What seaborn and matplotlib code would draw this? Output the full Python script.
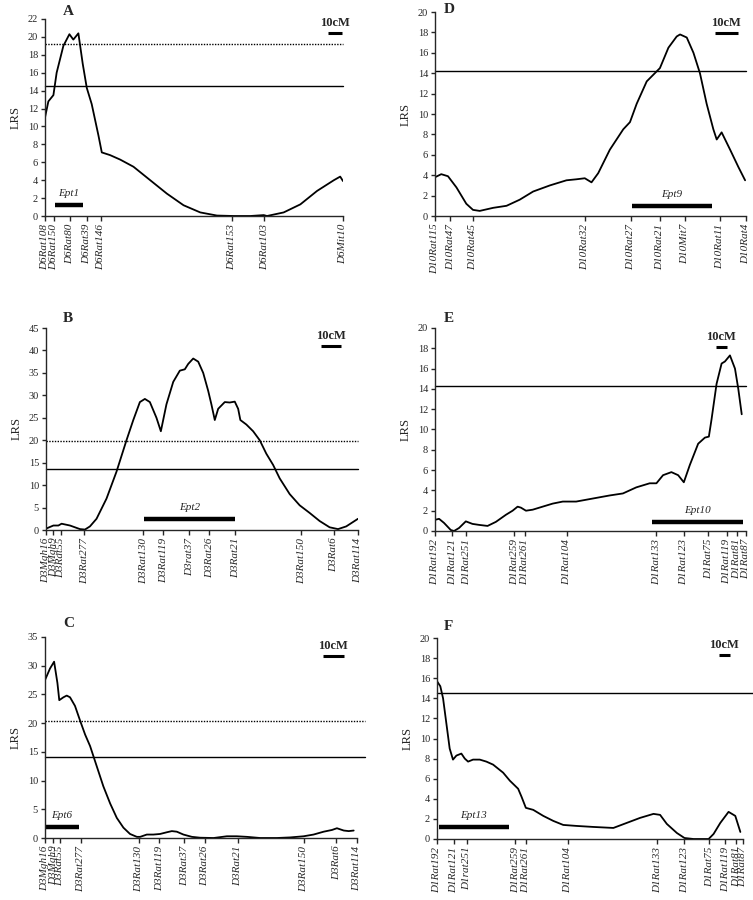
import matplotlib
matplotlib.use("Agg")
import matplotlib.pyplot as plt
import seaborn as sns
import numpy as np

# ---- data (positions in cM, LRS values) ----
# Panel A - chromosome 6
a_markers = ['D6Rat108', 'D6Rat150', 'D6Rat80', 'D6Rat39', 'D6Rat146',
             'D6Rat153', 'D6Rat103', 'D6Mit10']
a_marker_cm = [0, 6.5, 17.5, 30, 40, 133, 156.5, 212.5]
a_cm = [0, 2.4, 6, 8.3, 13.1, 17.4, 20.2, 23.8, 26.9, 29.8, 33.3, 38.1, 40.5,
        46.4, 53.6, 63.1, 75, 86.9, 98.8, 110.7, 122.6, 134.5, 146.4, 156,
        158.3, 170.2, 182.1, 194, 206, 210.5, 212.5]
a_lrs = [11, 12.8, 13.5, 16, 19, 20.3, 19.7, 20.4, 17, 14.3, 12.5, 9, 7.1,
         6.8, 6.3, 5.5, 4, 2.5, 1.2, 0.4, 0.05, 0, 0, 0.1,
         0, 0.4, 1.3, 2.8, 4, 4.4, 3.9]
a_sig, a_sugg = 19.2, 14.5
a_qtl, a_qtl_cm = 'Ept1', (7.1, 26.9)

# Panel B - chromosome 3 (Ept2)
b_markers = ['D3Mgh16', 'D3Mgh9', 'D3Rat55', 'D3Rat277', 'D3Rat130',
             'D3Rat119', 'D3rat37', 'D3Rat26', 'D3Rat21', 'D3Rat150',
             'D3Rat6', 'D3Rat114']
b_marker_cm = [0, 3.7, 7.5, 19.2, 48.7, 58.7, 71.7, 81.7, 94.8, 127.8, 144.2, 156.2]
b_cm = [0, 3.7, 6.2, 7.8, 12, 17, 19.5, 22, 25.3, 30.3, 35.3, 40.3, 43.7, 47,
        49.5, 52, 55.3, 57.5, 60.3, 63.7, 67, 69.5, 71.2, 73.7, 76.2, 78.7,
        81.2, 82.8, 84.5, 86.2, 89.5, 92, 94.5, 96.2, 97.3, 100.3, 103.7, 107,
        110.3, 113.7, 117, 122, 127, 132, 137, 142, 146.2, 150.3, 156.2]
b_lrs = [0.3, 1.0, 1.0, 1.4, 1.0, 0.2, 0.1, 0.8, 2.5, 7, 13, 20, 24.5, 28.5,
         29.2, 28.5, 25, 22, 28, 33, 35.5, 35.8, 37, 38.2, 37.5, 35,
         31, 28, 24.5, 27, 28.5, 28.4, 28.6, 27, 24.5, 23.5, 22, 20,
         17, 14.5, 11.5, 8, 5.5, 3.8, 2, 0.6, 0.2, 0.8, 2.5]
b_sig, b_sugg = 19.9, 13.6
b_qtl, b_qtl_cm = 'Ept2', (49, 94.8)

# Panel C - chromosome 3 (Ept6)
c_markers = b_markers[:6] + ['D3Rat37'] + b_markers[7:]
c_marker_cm = [0, 4, 7.3, 17.4, 45.2, 55.2, 67.3, 77.1, 93.1, 125, 140.8, 150.8]
c_cm = [0, 2.4, 4.4, 6, 6.9, 8.9, 10.5, 12.1, 14.5, 16.9, 19.4, 21.8, 25, 28.2,
        31.5, 34.7, 37.9, 41.1, 44.4, 46, 49.2, 52.4, 55.6, 58.9, 61.3, 63.7,
        66.9, 71, 75, 81.5, 87.9, 92.7, 97.6, 104, 112.1, 118.5, 125, 129.8,
        134.7, 138.7, 141.1, 144.4, 146.8, 149.2]
c_lrs = [27.5, 29.5, 30.7, 27, 24, 24.5, 24.8, 24.5, 23, 20.5, 18, 16, 12.5, 9,
         6, 3.5, 1.8, 0.7, 0.2, 0.2, 0.6, 0.6, 0.7, 1, 1.2, 1.1,
         0.6, 0.2, 0.05, 0, 0.3, 0.3, 0.2, 0, 0, 0.1, 0.3, 0.6,
         1.1, 1.4, 1.7, 1.3, 1.2, 1.3]
c_sig, c_sugg = 20.4, 14.1
c_qtl, c_qtl_cm = 'Ept6', (0, 16.5)

# Panel D - chromosome 10
d_markers = ['D10Rat115', 'D10Rat47', 'D10Rat45', 'D10Rat32', 'D10Rat27',
             'D10Rat21', 'D10Mit7', 'D10Rat11', 'D10Rat4']
d_marker_cm = [0, 6.9, 17, 67, 87.5, 100.6, 111.8, 127.5, 139.1]
d_cm = [0, 2.8, 5.8, 9.6, 14, 17, 20, 26, 32, 37.9, 43.9, 51.4, 58.8, 63.3, 67,
        70, 73, 78.2, 84.2, 87.2, 90.2, 94.7, 100.6, 104.4, 108.1, 109.6,
        112.6, 115.6, 118.5, 121.5, 124.5, 126, 128.2, 132, 135.7, 138.7]
d_lrs = [3.8, 4.1, 3.9, 2.8, 1.2, 0.6, 0.5, 0.8, 1.0, 1.6, 2.4, 3.0, 3.5, 3.6,
         3.7, 3.3, 4.2, 6.5, 8.5, 9.2, 11, 13.2, 14.5, 16.5, 17.6, 17.8,
         17.5, 16, 14, 11, 8.5, 7.5, 8.2, 6.5, 4.8, 3.5]
d_sig, d_sugg = None, 14.2
d_qtl, d_qtl_cm = 'Ept9', (87.9, 124.1)

# Panel E - chromosome 1 (Ept10)
e_markers = ['D1Rat192', 'D1Rat121', 'D1Rat251', 'D1Rat259', 'D1Rat261',
             'D1Rat104', 'D1Rat133', 'D1Rat123', 'D1Rat75', 'D1Rat119',
             'D1Rat81', 'D1Rat87']
e_marker_cm = [0, 16.3, 29.4, 74.1, 84.1, 123.4, 206.9, 232.5, 255.3, 272.5,
               281.9, 290.6]
e_cm = [0, 3.8, 8.4, 14.7, 17.8, 22.5, 28.8, 35, 41.3, 49.1, 56.9, 66.3, 72.5,
        77.2, 80.3, 85, 91.3, 100.6, 110, 119.4, 131.9, 147.5, 163.1, 175.6,
        188.1, 200.6, 206.9, 213.1, 220.9, 227.2, 232.5, 238.1, 245.9, 252.2,
        255.9, 258.4, 263.1, 267.8, 270.9, 275.6, 280.3, 283.4, 286.6]
e_lrs = [1.1, 1.2, 0.8, 0.1, 0, 0.3, 0.95, 0.7, 0.6, 0.5, 0.9, 1.6, 2.0,
         2.4, 2.3, 2.0, 2.1, 2.4, 2.7, 2.9, 2.9, 3.2, 3.5, 3.7,
         4.3, 4.7, 4.7, 5.5, 5.8, 5.5, 4.8, 6.5, 8.6, 9.2,
         9.3, 11, 14.5, 16.5, 16.7, 17.3, 16, 14, 11.5]
e_sig, e_sugg = None, 14.3
e_qtl, e_qtl_cm = 'Ept10', (203.1, 288.1)

# Panel F - chromosome 1 (Ept13)
f_markers = ['D1Rat192', 'D1Rat121', 'D1rat251', 'D1Rat259', 'D1Rat261',
             'D1Rat104', 'D1Rat133', 'D1Rat123', 'D1Rat75', 'D1Rat119',
             'D1Rat81', 'D1Rat87']
f_marker_cm = [0, 15.2, 27.3, 71.2, 80.6, 118.5, 200, 224.5, 247, 261.5,
               271.5, 277.6]
f_cm = [0, 3, 5.5, 8.5, 11.5, 14.5, 17.6, 22.1, 25.2, 28.2, 32.7, 38.8, 44.8,
        50.9, 60, 66.1, 73.6, 76.7, 80.6, 87.3, 96.4, 105.5, 114.5, 126.7,
        141.8, 160, 172.1, 184.2, 196.4, 202.4, 208.5, 217.6, 224.5, 232.7,
        246.4, 250.9, 257, 264.5, 270.6, 275.2]
f_lrs = [15.7, 15.2, 14, 11.5, 9, 7.9, 8.3, 8.5, 8.0, 7.7, 7.9, 7.9, 7.7,
         7.4, 6.6, 5.8, 5.0, 4.2, 3.1, 2.9, 2.3, 1.8, 1.4, 1.3,
         1.2, 1.1, 1.6, 2.1, 2.5, 2.4, 1.5, 0.6, 0.1, 0,
         0, 0.5, 1.6, 2.7, 2.3, 0.7]
f_sig, f_sugg = None, 14.5
f_qtl, f_qtl_cm = 'Ept13', (1.8, 65.2)

# ---- layout / style per panel (pixel boxes of the original figure) ----
W, H = 753, 900
panels = [
    # letter, markers, marker cm, x, y, sig, sugg, qtl, qtl span, ymax, ystep,
    # box (l, r, top, bottom), qtl bar y, scale bar start, scale bar y, line ext
    ('A', a_markers, a_marker_cm, a_cm, a_lrs, a_sig, a_sugg, a_qtl, a_qtl_cm,
     22, 2, (45, 343, 19, 216), 1.25, 202, 20.4, 1.0, (63, 15)),
    ('B', b_markers, b_marker_cm, b_cm, b_lrs, b_sig, b_sugg, b_qtl, b_qtl_cm,
     45, 5, (46, 358, 328, 530), 2.4, 137.8, 40.9, 1.0, (63, 322)),
    ('C', c_markers, c_marker_cm, c_cm, c_lrs, c_sig, c_sugg, c_qtl, c_qtl_cm,
     35, 5, (45, 357, 637, 838), 1.9, 134.4, 31.7, 1.027, (63, 627)),
    ('D', d_markers, d_marker_cm, d_cm, d_lrs, d_sig, d_sugg, d_qtl, d_qtl_cm,
     20, 2, (435, 746, 12, 216), 1.0, 125.3, 17.9, 1.0, (444, 13)),
    ('E', e_markers, e_marker_cm, e_cm, e_lrs, e_sig, e_sugg, e_qtl, e_qtl_cm,
     20, 2, (435, 746, 328, 531), 0.9, 262.5, 18.1, 1.0, (444, 322)),
    ('F', f_markers, f_marker_cm, f_cm, f_lrs, f_sig, f_sugg, f_qtl, f_qtl_cm,
     20, 2, (437, 743, 638, 839), 1.16, 255.5, 18.3, 1.033, (444, 630)),
]

sns.set_style("ticks")
plt.rcParams['font.family'] = ['Liberation Serif', 'DejaVu Serif']
plt.rcParams['axes.linewidth'] = 1.0

fig = plt.figure(figsize=(W / 100, H / 100), dpi=100)

for (letter, markers, mpos, xs, ys, sig, sugg, qtl, qspan, ymax, ystep,
     box, qy, sb_x, sb_y, ext, lpos) in panels:
    l, r, t, b = box
    ax = fig.add_axes([l / W, 1 - b / H, (r - l) / W, (b - t) / H])

    sns.lineplot(x=xs, y=ys, ax=ax, color='black', lw=1.3, sort=False)

    # threshold lines
    if sig is not None:
        ax.axhline(sig, xmax=ext, color='black', lw=1.0, ls=(0, (1, 1)),
                   clip_on=False)
    ax.axhline(sugg, xmax=ext, color='black', lw=1.0, clip_on=False)

    # QTL interval bar + name
    ax.plot(qspan, [qy, qy], color='black', lw=3.2, solid_capstyle='butt')
    ax.annotate(qtl, (np.mean(qspan), qy), xytext=(0, 5),
                textcoords='offset points', ha='center', va='bottom',
                fontsize=8, style='italic')

    # 10 cM scale bar
    ax.plot([sb_x, sb_x + 10], [sb_y, sb_y], color='black', lw=2.2,
            solid_capstyle='butt')
    ax.annotate('10cM', (sb_x + 5, sb_y), xytext=(0, 3),
                textcoords='offset points', ha='center', va='bottom',
                fontsize=9, fontweight='bold')

    ax.set_xlim(mpos[0], mpos[-1])
    ax.set_ylim(0, ymax)
    ax.set_yticks(np.arange(0, ymax + 0.1, ystep))
    ax.set_xticks(mpos)
    ax.set_xticklabels(markers, rotation=90, fontsize=8, style='italic')
    ax.tick_params(axis='y', labelsize=7.5, length=3, width=1, pad=2)
    ax.tick_params(axis='x', length=3.5, width=1, pad=2)
    ax.set_ylabel('LRS', fontsize=9, labelpad=4)
    sns.despine(ax=ax)

    fig.text(lpos[0] / W, 1 - lpos[1] / H, letter, fontsize=11,
             fontweight='bold', ha='left', va='baseline')

plt.savefig('out.png', dpi=100)
